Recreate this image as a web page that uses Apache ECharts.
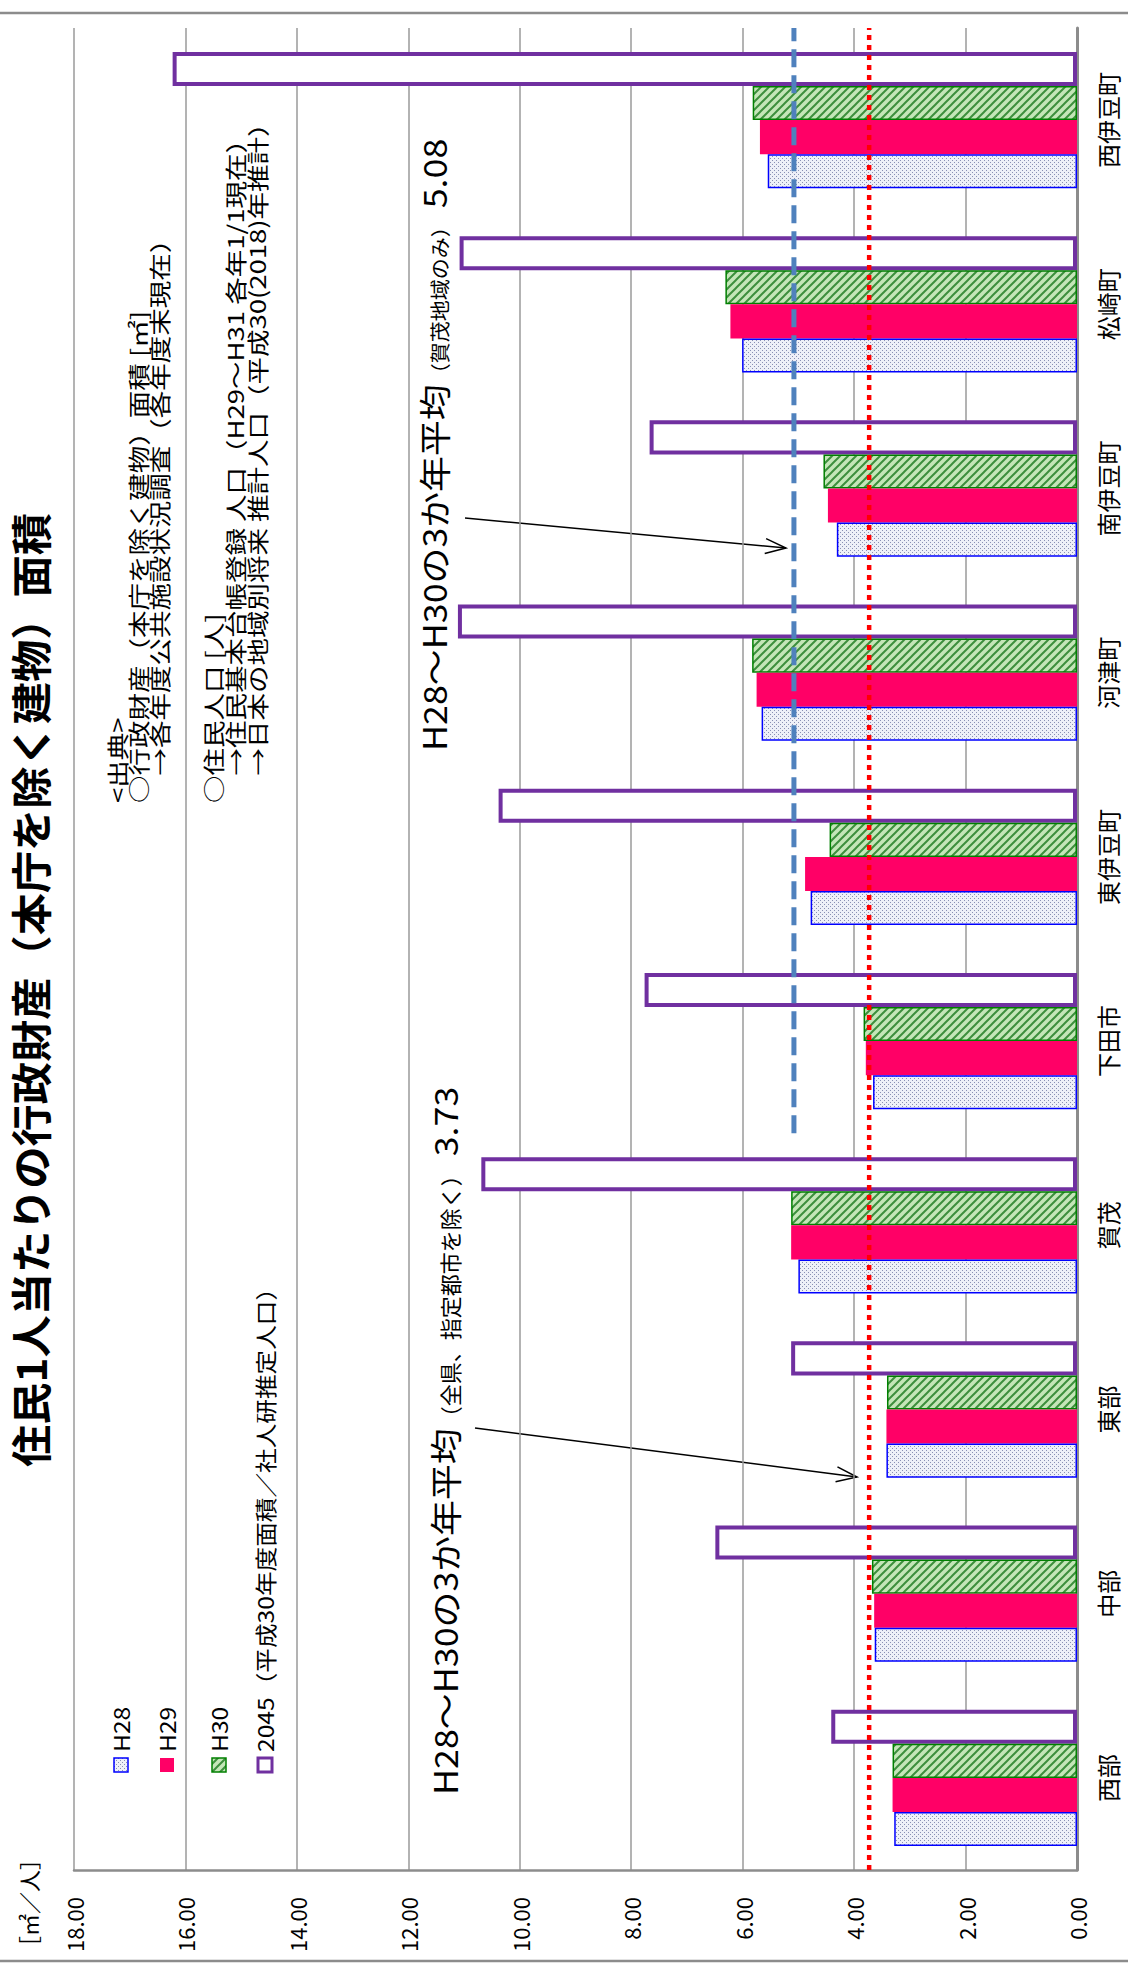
<!DOCTYPE html>
<html>
<head>
<meta charset="utf-8">
<title>住民1人当たりの行政財産（本庁を除く建物）面積</title>
<script type="text/javascript" src="https://cdn.jsdelivr.net/npm/echarts@6/dist/echarts.min.js"></script>
<style>
  html, body { margin: 0; padding: 0; background: #fff; }
</style>
</head>
<body>
<div id="main" style="width: 1128px; height: 1963px;"></div>
<script type="text/javascript">
// 地域（下から上へ）
var categories = ['西部', '中部', '東部', '賀茂', '下田市', '東伊豆町', '河津町', '南伊豆町', '松崎町', '西伊豆町'];
// 住民1人当たり面積 [㎡／人]
var h28 = [3.28, 3.63, 3.42, 5.00, 3.66, 4.78, 5.66, 4.31, 6.01, 5.55];
var h29 = [3.31, 3.64, 3.42, 5.13, 3.79, 4.88, 5.75, 4.47, 6.22, 5.69];
var h30 = [3.31, 3.68, 3.41, 5.13, 3.83, 4.44, 5.83, 4.55, 6.31, 5.82];
var y2045 = [4.41, 6.49, 5.13, 10.69, 7.76, 10.38, 11.11, 7.67, 11.08, 16.23];
// 3か年平均
var avgAll = 3.73;   // 全県（指定都市を除く）
var avgKamo = 5.08;  // 賀茂地域のみ
var kamoFrom = '下田市';
// 目盛り
var tickLabels = ['0.00', '2.00', '4.00', '6.00', '8.00', '10.00', '12.00', '14.00', '16.00', '18.00'];

var FONT = '"Noto Sans CJK JP", "Noto Sans", sans-serif';

// 模様（H28：点、H30：斜線）
function dotPattern() {
  var c = document.createElement('canvas');
  c.width = 4; c.height = 4;
  var g = c.getContext('2d');
  g.fillStyle = '#eef0f8'; g.fillRect(0, 0, 4, 4);
  g.fillStyle = '#8a90b4';
  g.fillRect(0, 0, 1, 1); g.fillRect(2, 2, 1, 1);
  return c;
}
function hatchPattern() {
  var c = document.createElement('canvas');
  c.width = 8; c.height = 8;
  var g = c.getContext('2d');
  g.fillStyle = '#c4e6b8'; g.fillRect(0, 0, 8, 8);
  g.strokeStyle = '#3d8f3d'; g.lineWidth = 2;
  g.beginPath();
  g.moveTo(-4, 4); g.lineTo(4, -4);
  g.moveTo(0, 8); g.lineTo(8, 0);
  g.moveTo(4, 12); g.lineTo(12, 4);
  g.stroke();
  return c;
}
var dots = { image: dotPattern(), repeat: 'repeat' };
var hatch = { image: hatchPattern(), repeat: 'repeat' };

// 文字幅の計測
var mctx = document.createElement('canvas').getContext('2d');
function measure(text, size) {
  mctx.font = size + 'px ' + FONT;
  return mctx.measureText(text).width;
}

// 矢印（注記用）
function arrow(x1, y1, x2, y2) {
  var a = Math.atan2(y2 - y1, x2 - x1), L = 22, w = 0.35;
  return {
    type: 'group',
    silent: true,
    children: [
      { type: 'line', shape: { x1: x1, y1: y1, x2: x2, y2: y2 }, style: { stroke: '#000', lineWidth: 1.5 } },
      { type: 'polyline', shape: { points: [
          [x2 - L * Math.cos(a - w), y2 - L * Math.sin(a - w)], [x2, y2],
          [x2 - L * Math.cos(a + w), y2 - L * Math.sin(a + w)] ] },
        style: { stroke: '#000', lineWidth: 1.5, fill: null } }
    ]
  };
}
// 縦書き（90度回転）テキスト  sx：文字方向の伸び
function vtext(x, y, text, size, opt) {
  opt = opt || {};
  return {
    type: 'text', x: x, y: y, rotation: Math.PI / 2, silent: true,
    scaleX: opt.sx || 1,
    style: {
      text: text, fill: '#000',
      font: (opt.bold ? 'bold ' : '') + size + 'px ' + FONT,
      align: opt.align || 'left', verticalAlign: opt.va || 'middle'
    }
  };
}
// 大きさの違う文字を下揃えでつなげる
function vparts(x, y, parts) {
  var els = [];
  parts.forEach(function (p) {
    els.push(vtext(x, y, p[0], p[1], { sx: p[2], va: 'bottom' }));
    y -= measure(p[0], p[1]) * p[2];
  });
  return { type: 'group', silent: true, children: els };
}
function legendItem(x, y, fill, stroke, lw, label) {
  return {
    type: 'group', silent: true,
    children: [
      { type: 'rect', shape: { x: x - 7, y: y - 7, width: 14, height: 14 },
        style: { fill: fill, stroke: stroke, lineWidth: lw } },
      vtext(x, y - 13, label, 22, { sx: 1.12 })
    ]
  };
}

var myChart = echarts.init(document.getElementById('main'), null, { renderer: 'svg' });

var SRC = { sx: 1.25 };
var option = {
  animation: false,
  backgroundColor: '#fff',
  textStyle: { fontFamily: FONT },
  grid: { left: 74, right: 51, top: 28, bottom: 93 },
  xAxis: {
    type: 'value',
    inverse: true,
    min: 0, max: 18, interval: 2,
    axisLine: { show: true, lineStyle: { color: '#8c8c8c', width: 2.5 } },
    axisTick: { show: false },
    splitLine: { show: true, lineStyle: { color: '#9a9a9a', width: 1.5 } },
    axisLabel: {
      rotate: 90, margin: 27, fontSize: 22, color: '#000', fontFamily: FONT,
      formatter: function (v) { return tickLabels[Math.round(v / 2)]; }
    }
  },
  yAxis: [{
    type: 'category',
    position: 'right',
    data: categories,
    axisLine: { show: true, lineStyle: { color: '#8c8c8c', width: 3 } },
    axisTick: { show: false },
    axisLabel: { rotate: 90, margin: 18, fontSize: 24, color: '#000', fontFamily: FONT }
  }, {
    // 平均線を帯の境界に合わせるための補助軸
    type: 'value', show: false, min: 0, max: categories.length
  }],
  // 横棒は先の系列ほど上に並ぶので 2045 → H30 → H29 → H28 の順
  series: [
    { name: '2045', type: 'bar', data: y2045, barGap: '0%', barCategoryGap: '26%',
      itemStyle: { color: '#ffffff', borderColor: '#7030a0', borderWidth: 4 } },
    { name: 'H30', type: 'bar', data: h30, barGap: '0%', barCategoryGap: '26%',
      itemStyle: { color: hatch, borderColor: '#008000', borderWidth: 1.5 } },
    { name: 'H29', type: 'bar', data: h29, barGap: '0%', barCategoryGap: '26%',
      itemStyle: { color: '#ff0066' } },
    { name: 'H28', type: 'bar', data: h28, barGap: '0%', barCategoryGap: '26%',
      itemStyle: { color: dots, borderColor: '#0000ff', borderWidth: 1.5 } },
    { name: '全県平均', type: 'line', yAxisIndex: 1, silent: true, symbol: 'none', z: 5,
      data: [[avgAll, 0], [avgAll, categories.length]],
      lineStyle: { color: '#ff0000', width: 4.5, type: [5, 5] } },
    { name: '賀茂平均', type: 'line', yAxisIndex: 1, silent: true, symbol: 'none', z: 5,
      data: [[avgKamo, categories.indexOf(kamoFrom)], [avgKamo, categories.length]],
      lineStyle: { color: '#4f81bd', width: 5, type: [18, 8] } }
  ],
  graphic: [
    // 外枠
    { type: 'line', shape: { x1: 0, y1: 13, x2: 1128, y2: 13 }, style: { stroke: '#8c8c8c', lineWidth: 2.5 } },
    { type: 'line', shape: { x1: 0, y1: 1961, x2: 1128, y2: 1961 }, style: { stroke: '#8c8c8c', lineWidth: 2.5 } },
    // タイトル
    vtext(29, 990, '住民1人当たりの行政財産（本庁を除く建物）面積', 41, { bold: true, align: 'center', sx: 1.03 }),
    // 単位
    vtext(28, 1903, '［㎡／人］', 22, { align: 'center' }),
    // 凡例
    legendItem(121, 1765, dots, '#0000ff', 1.5, 'H28'),
    legendItem(167, 1765, '#ff0066', null, 0, 'H29'),
    legendItem(219, 1765, hatch, '#008000', 1.5, 'H30'),
    legendItem(265, 1765, '#fff', '#7030a0', 3, '2045（平成30年度面積／社人研推定人口）'),
    // 出典
    vtext(116, 803, '<出典>', 22, SRC),
    vtext(137, 803, '○行政財産（本庁を除く建物）面積 [㎡]', 22, SRC),
    vtext(158, 803, '　→各年度公共施設状況調査（各年度末現在）', 22, SRC),
    vtext(212, 803, '○住民人口 [人]', 22, SRC),
    vtext(234, 803, '　→住民基本台帳登録 人口（H29～H31 各年1/1現在）', 22, SRC),
    vtext(256, 803, '　→日本の地域別将来 推計人口（平成30(2018)年推計）', 22, SRC),
    // 注記
    vparts(460, 1795, [['H28～H30の3か年平均', 32, 1.12], ['（全県、指定都市を除く）', 22, 1], [' 3.73', 32, 1.12]]),
    vparts(449, 751, [['H28～H30の3か年平均', 32, 1.12], ['（賀茂地域のみ）', 20, 1.05], [' 5.08', 32, 1.12]]),
    arrow(475, 1428, 857, 1477),
    arrow(465, 518, 786, 548)
  ]
};

myChart.setOption(option);
</script>
</body>
</html>
